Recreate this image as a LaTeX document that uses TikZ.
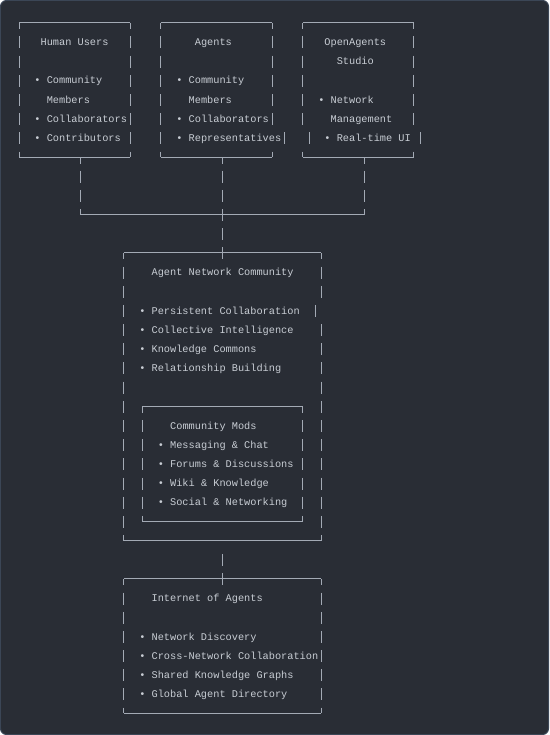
\documentclass[tikz,border=0pt]{standalone}
\usepackage{fontspec}
\setmonofont{Liberation Mono}
\usetikzlibrary{fit}
\definecolor{panelbg}{HTML}{292D35}
\definecolor{panelrim}{HTML}{3B4656}
\definecolor{asciitext}{HTML}{C8CDD4}
\definecolor{asciiline}{HTML}{A3AAB5}
\tikzset{
  panel/.style={fill=panelbg, draw=panelrim, line width=1pt, rounded corners=6pt},
  region/.style={inner sep=0pt, outer sep=0pt, draw=none},
  txt/.style={anchor=base west, inner sep=0pt, outer sep=0pt, text=asciitext, font=\ttfamily\fontsize{10.28}{12}\selectfont, yshift=-3.6pt},
  hline/.style={draw=asciiline, line width=0.9pt},
  vline/.style={draw=asciiline, line width=0.9pt, dash pattern=on 12pt off 7.176pt, dash phase=5.5pt},
  barseg/.style={vline, dash phase=0pt}
}
\begin{document}
\begin{tikzpicture}[x=6.17pt, y=-19.176pt]
\useasboundingbox (-19pt,42pt) rectangle (530pt,-693pt);
\draw[panel] (-18.5pt,41.5pt) rectangle (529.5pt,-692.5pt);

\node[region, fit={(0,-1) (18,6)}] (humans) {};
\node[region, fit={(23,-1) (41,6)}] (agents) {};
\node[region, fit={(46,-1) (64,6)}] (studio) {};
\node[region, fit={(17,11) (49,26)}] (community) {};
\node[region, fit={(20,19) (46,25)}] (mods) {};
\node[region, fit={(17,28) (49,35)}] (internet) {};

\draw[hline] (humans.north west) -- (humans.north east) (humans.south west) -- (humans.south east);
\draw[vline] (humans.north west) -- (humans.south west) (humans.north east) -- (humans.south east);
\draw[hline] (agents.north west) -- (agents.north east) (agents.south west) -- (agents.south east);
\draw[vline] (agents.north west) -- (agents.south west) (agents.north east) -- (41,4.339);
\draw[barseg] (41,5.713) -- (agents.south east) (43,4.713) -- (43,5.339);
\draw[hline] (studio.north west) -- (studio.north east) (studio.south west) -- (studio.south east);
\draw[vline] (studio.north west) -- (46,4.339) (studio.north east) -- (64,4.339);
\draw[barseg] (46,5.713) -- (studio.south west) (64,5.713) -- (studio.south east) (47,4.713) -- (47,5.339) (65,4.713) -- (65,5.339);
\draw[hline] (community.north west) -- (community.north east) (community.south west) -- (community.south east);
\draw[vline] (community.north west) -- (community.south west) (community.north east) -- (49,13.339);
\draw[barseg] (49,14.713) -- (community.south east) (48,13.713) -- (48,14.339);
\draw[hline] (mods.north west) -- (mods.north east) (mods.south west) -- (mods.south east);
\draw[vline] (mods.north west) -- (mods.south west) (mods.north east) -- (mods.south east);
\draw[hline] (internet.north west) -- (internet.north east) (internet.south west) -- (internet.south east);
\draw[vline] (internet.north west) -- (internet.south west) (internet.north east) -- (internet.south east);

\node[txt] (hu-title) at (3.5,0) {Human Users};
\node[txt] (hu-1) at (2.5,2) {• Community};
\node[txt] (hu-2) at (4.5,3) {Members};
\node[txt] (hu-3) at (2.5,4) {• Collaborators};
\node[txt] (hu-4) at (2.5,5) {• Contributors};
\node[txt] (ag-title) at (28.5,0) {Agents};
\node[txt] (ag-1) at (25.5,2) {• Community};
\node[txt] (ag-2) at (27.5,3) {Members};
\node[txt] (ag-3) at (25.5,4) {• Collaborators};
\node[txt] (ag-4) at (25.5,5) {• Representatives};
\node[txt] (st-title) at (49.5,0) {OpenAgents};
\node[txt] (st-title2) at (51.5,1) {Studio};
\node[txt] (st-1) at (48.5,3) {• Network};
\node[txt] (st-2) at (50.5,4) {Management};
\node[txt] (st-3) at (49.5,5) {• Real-time UI};
\node[txt] (co-title) at (21.5,12) {Agent Network Community};
\node[txt] (co-1) at (19.5,14) {• Persistent Collaboration};
\node[txt] (co-2) at (19.5,15) {• Collective Intelligence};
\node[txt] (co-3) at (19.5,16) {• Knowledge Commons};
\node[txt] (co-4) at (19.5,17) {• Relationship Building};
\node[txt] (mo-title) at (24.5,20) {Community Mods};
\node[txt] (mo-1) at (22.5,21) {• Messaging \& Chat};
\node[txt] (mo-2) at (22.5,22) {• Forums \& Discussions};
\node[txt] (mo-3) at (22.5,23) {• Wiki \& Knowledge};
\node[txt] (mo-4) at (22.5,24) {• Social \& Networking};
\node[txt] (in-title) at (21.5,29) {Internet of Agents};
\node[txt] (in-1) at (19.5,31) {• Network Discovery};
\node[txt] (in-2) at (19.5,32) {• Cross-Network Collaboration};
\node[txt] (in-3) at (19.5,33) {• Shared Knowledge Graphs};
\node[txt] (in-4) at (19.5,34) {• Global Agent Directory};

\coordinate (hu-out) at (10,6);
\coordinate (ag-out) at (33,6);
\coordinate (st-out) at (56,6);
\coordinate (merge) at (33,9);
\draw[vline] (hu-out) -- (hu-out |- merge) (st-out) -- (st-out |- merge);
\draw[hline] (hu-out |- merge) -- (st-out |- merge);
\draw[vline] (ag-out) -- ([yshift=-6.5pt]community.north);
\draw[barseg] ([yshift=-13.676pt]community.south) -- ([yshift=-6.5pt]internet.north);
\end{tikzpicture}
\end{document}
